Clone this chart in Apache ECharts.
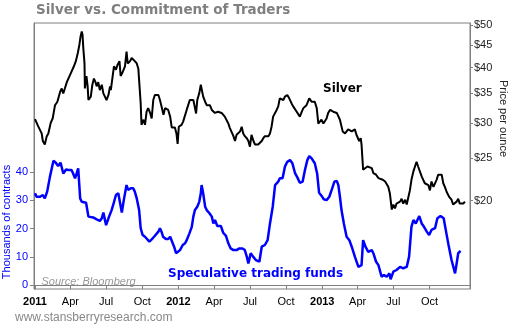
<!DOCTYPE html>
<html><head><meta charset="utf-8">
<script src="https://cdn.jsdelivr.net/npm/echarts@6/dist/echarts.min.js"></script>
<style>html,body{margin:0;padding:0;background:#fff}#c{width:510px;height:325px}</style>
</head><body><div id="c"></div>
<script>
// Silver price (USD per ounce); days counted from 2011-01-01
const silverDay = [
0,4,8,13,17,20,25,30,34,40,
45,51,57,64,68,72,76,81,85,89,
93,99,104,109,113,116,119,121,123,126,
127,130,131,134,136,138,142,146,150,154,
157,161,165,170,174,178,182,187,191,193,
198,201,206,210,215,218,222,229,233,236,
242,246,250,254,259,263,265,269,271,276,
280,284,288,293,297,301,305,310,314,318,
322,327,331,335,339,344,348,352,356,360,
363,366,369,373,377,382,386,390,394,399,
403,407,410,413,418,422,428,433,437,441,
445,450,454,458,462,466,471,475,479,483,
488,492,496,500,505,509,513,517,522,526,
530,534,539,543,547,551,556,560,564,568,
572,577,581,585,589,594,598,602,606,611,
615,619,623,628,632,636,642,647,653,657,
662,666,670,674,679,683,687,691,698,704,
708,712,717,721,725,729,734,738,742,746,
751,759,768,776,783,789,797,806,814,818,
825,829,831,835,840,846,851,857,861,868,
874,878,885,891,895,899,903,908,912,916,
920,925,929,933,937,942,946,950,954,958,
963,967,971,975,980,984,988,992,997,1001,
1005,1009,1014,1018,1022,1026,1031,1035,1039,1043,
1048,1054,1060,1064,1069,1073,1077,1081,1086,1090,
1094];
const silverPrice = [
30.6,30.3,29.5,29.6,28.4,27.3,26.8,28.0,28.4,30.0,
30.7,32.9,33.5,35.3,35.9,35.0,35.9,37.1,37.8,37.5,
39.2,40.3,41.4,43.2,45.1,47.1,48.3,47.5,44.3,40.9,
35.9,35.6,38.3,36.3,33.8,33.5,34.4,36.6,37.8,37.1,
36.3,37.1,35.6,36.6,35.0,34.4,33.8,34.7,36.3,35.6,
38.5,40.3,39.6,40.6,41.4,38.3,38.9,40.3,43.5,40.9,
41.4,42.1,42.4,41.4,40.9,39.8,39.6,33.2,29.7,30.5,
29.7,31.8,32.4,31.6,30.7,33.8,34.7,34.4,34.7,33.8,
32.7,31.3,32.4,32.7,32.1,31.0,29.3,29.0,29.3,28.4,
26.9,29.4,29.3,29.7,30.2,30.5,32.1,32.4,33.8,34.1,
33.8,34.1,31.5,33.8,35.0,36.6,34.4,33.5,32.9,32.7,
32.9,32.1,32.4,31.6,31.8,31.8,32.1,31.6,31.3,31.0,
31.0,29.9,29.2,29.0,28.0,27.3,28.2,28.0,28.7,29.4,
28.4,28.0,27.7,27.3,26.5,28.2,27.3,26.8,27.0,26.8,
27.0,27.3,27.7,28.0,28.0,28.0,28.4,29.4,31.0,31.3,
32.1,32.7,34.1,34.4,33.8,34.4,34.7,34.1,33.2,32.7,
32.4,31.8,32.1,31.0,31.8,32.4,32.7,32.9,34.1,33.5,
33.2,33.5,32.4,29.9,29.7,30.5,29.9,30.2,30.7,31.6,
32.1,31.8,31.6,30.5,28.7,28.4,29.0,28.7,29.0,28.2,
27.3,27.7,26.8,23.5,23.3,23.9,24.1,23.7,23.1,22.9,
22.5,22.7,22.3,22.1,21.9,21.5,20.8,19.1,19.6,19.2,
19.7,19.6,19.9,20.2,19.7,20.1,19.6,19.7,21.1,22.3,
23.3,23.9,24.5,23.9,23.7,22.7,22.3,21.9,22.1,21.7,
21.1,22.1,21.5,21.5,22.3,22.9,22.7,22.9,21.9,21.5,
20.9,20.4,20.1,19.6,19.4,19.9,20.2,19.7,19.6,19.7,
19.9];
// Speculative trading funds net position (thousands of contracts); days from 2011-01-01
const cotDay = [
0,4,13,20,25,31,38,47,53,59,
65,72,79,85,93,97,102,106,110,115,
119,123,130,136,140,148,157,165,170,174,
181,187,195,199,206,212,216,221,226,233,
237,244,250,254,259,265,269,274,280,284,
291,297,303,308,314,318,322,326,333,339,
344,349,354,359,363,369,376,382,386,393,
399,403,407,413,418,422,424,428,433,437,
444,450,454,458,464,469,473,475,479,486,
492,498,505,513,520,528,534,539,543,549,
555,562,571,577,585,592,598,605,611,619,
623,630,636,642,649,655,662,667,674,681,
687,693,698,704,712,718,723,730,735,742,
749,755,762,768,772,776,780,786,793,800,
806,814,823,831,835,841,848,857,861,868,
874,882,888,895,902,905,912,920,929,937,
946,952,958,963,969,978,984,990,997,1003,
1009,1018,1024,1032,1040,1046,1052,1060,1069,1073,
1077,1083];
const cotValue = [
32.4,31.2,31.2,31.8,30.6,33.0,38.2,43.9,43.2,42.0,
43.2,39.4,40.8,40.6,40.6,39.4,37.7,39.4,41.2,30.6,
29.4,28.9,29.1,24.2,23.8,23.9,23.2,22.7,23.6,25.6,
21.2,23.6,26.5,28.3,31.8,32.4,29.4,25.6,30.0,35.3,
33.6,34.2,34.2,33.0,30.6,26.5,20.1,17.7,17.1,17.1,
15.4,16.2,17.1,17.7,18.9,20.1,18.9,17.1,16.3,16.3,
17.1,17.7,13.6,11.3,10.7,12.4,14.2,14.8,15.9,18.3,
20.6,24.2,26.5,27.7,29.4,32.4,35.3,32.4,27.7,26.5,
25.4,24.2,21.8,23.0,20.9,21.2,20.9,20.1,18.5,17.4,
14.8,13.0,12.4,12.4,13.0,13.0,12.4,10.1,7.7,11.3,
10.1,8.9,8.3,13.6,14.2,15.9,21.8,27.7,35.3,36.5,
37.7,37.7,41.8,43.5,44.1,43.0,39.4,38.2,36.1,36.5,
40.6,44.1,45.5,44.7,43.0,39.4,32.6,31.4,30.3,30.0,
31.2,33.6,36.5,36.8,35.3,31.2,26.5,21.8,17.1,15.9,
13.6,10.1,6.5,7.1,15.9,13.6,11.8,12.4,11.3,8.3,
7.1,3.0,3.6,3.0,4.2,2.1,4.8,5.4,6.5,6.0,
6.5,10.1,20.6,23.0,21.8,24.4,21.8,20.6,18.9,17.7,
19.5,20.1,23.6,24.4,23.6,19.0,14.5,8.9,4.2,7.7,
11.3,12.1];
const xTickDates = ['2011-01-01','2011-04-01','2011-07-01','2011-10-01','2012-01-01','2012-04-01','2012-07-01','2012-10-01','2013-01-01','2013-04-01','2013-07-01','2013-10-01'];
const xTickLabels = ['2011','Apr','Jul','Oct','2012','Apr','Jul','Oct','2013','Apr','Jul','Oct'];
const contractTicks = [0,10,20,30,40];
const priceTicks = [20,25,30,35,40,45,50];

const DAY = 86400000;
const T0 = Date.UTC(2011,0,1);
const toTime = d => T0 + d * DAY;
const tickTimes = xTickDates.map(s => Date.parse(s + 'T00:00:00Z'));
const priceTickLn = priceTicks.map(Math.log);

const chart = echarts.init(document.getElementById('c'), null, {renderer: 'canvas'});
const grey = '#808080';
const FONT = 'Liberation Sans, Arial, sans-serif';
chart.setOption({
  animation: false,
  backgroundColor: '#fff',
  grid: {left: 34, right: 40, top: 23, bottom: 36, show: true, borderColor: grey, borderWidth: 1, containLabel: false, outerBoundsMode: 'none'},
  xAxis: {
    type: 'value',
    min: toTime(-2.5), max: toTime(1107),
    axisLine: {show: true, lineStyle: {color: grey}},
    axisTick: {show: true, customValues: tickTimes, length: 4, inside: false, lineStyle: {color: grey}},
    axisLabel: {
      customValues: tickTimes, margin: 7, fontSize: 11, color: '#000', fontFamily: FONT,
      formatter: function (v) {
        let best = 0, bd = Infinity;
        tickTimes.forEach((t, i) => { const dd = Math.abs(t - v); if (dd < bd) { bd = dd; best = i; } });
        const s = xTickLabels[best];
        return /^\d{4}$/.test(s) ? '{y|' + s + '}' : s;
      },
      rich: {y: {fontWeight: 'bold', fontSize: 11, color: '#000', fontFamily: FONT}}
    },
    splitLine: {show: false}
  },
  yAxis: [
    {
      type: 'value', position: 'left', min: -1.3, max: 92.4,
      axisLine: {show: true, lineStyle: {color: grey}},
      axisTick: {show: true, customValues: contractTicks, length: 4, lineStyle: {color: grey}},
      axisLabel: {customValues: contractTicks, color: '#0000ff', fontSize: 11, margin: 6, fontFamily: FONT},
      splitLine: {show: false}
    },
    {
      type: 'value', position: 'right', min: Math.log(12.62), max: Math.log(50.5),
      axisLine: {show: true, lineStyle: {color: grey}},
      axisTick: {show: true, customValues: priceTickLn, length: 3, lineStyle: {color: grey}},
      axisLabel: {customValues: priceTickLn, color: '#222', fontSize: 11, margin: 4, fontFamily: FONT,
        formatter: v => '$' + Math.round(Math.exp(v))},
      splitLine: {show: false}
    }
  ],
  series: [
    {
      name: 'Speculative trading funds', type: 'line', xAxisIndex: 0, yAxisIndex: 0,
      data: cotDay.map((d, i) => [toTime(d), cotValue[i]]),
      symbol: 'none', lineStyle: {color: '#0000ff', width: 2.5}, silent: true
    },
    {
      name: 'Silver', type: 'line', xAxisIndex: 0, yAxisIndex: 1,
      data: silverDay.map((d, i) => [toTime(d), Math.log(silverPrice[i])]),
      symbol: 'none', lineStyle: {color: '#000', width: 2}, silent: true
    }
  ],
  graphic: [
    {type: 'text', x: 36, y: 10.5, style: {text: 'Silver vs. Commitment of Traders', fill: '#7f7f7f', font: 'bold 13.5px "DejaVu Sans"', textVerticalAlign: 'middle'}},
    {type: 'text', x: 323, y: 89, style: {text: 'Silver', fill: '#000', font: 'bold 12px "DejaVu Sans"', textVerticalAlign: 'middle'}},
    {type: 'text', x: 168, y: 274, style: {text: 'Speculative trading funds', fill: '#0000ff', font: 'bold 12px "DejaVu Sans"', textVerticalAlign: 'middle'}},
    {type: 'text', x: 41.5, y: 281.5, style: {text: 'Source: Bloomberg', fill: '#999', font: 'italic 11px "Liberation Sans"', textVerticalAlign: 'middle'}},
    {type: 'text', x: 15, y: 317.5, style: {text: 'www.stansberryresearch.com', fill: '#888', font: '12px "Liberation Sans"', textVerticalAlign: 'middle'}},
    {type: 'text', x: 7, y: 222, rotation: Math.PI / 2, style: {text: 'Thousands of contracts', fill: '#0000ff', font: '11px "Liberation Sans"', textAlign: 'center', textVerticalAlign: 'middle'}},
    {type: 'text', x: 503, y: 118.5, rotation: -Math.PI / 2, style: {text: 'Price per ounce', fill: '#222', font: '11px "Liberation Sans"', textAlign: 'center', textVerticalAlign: 'middle'}}
  ]
});
</script>
</body></html>
